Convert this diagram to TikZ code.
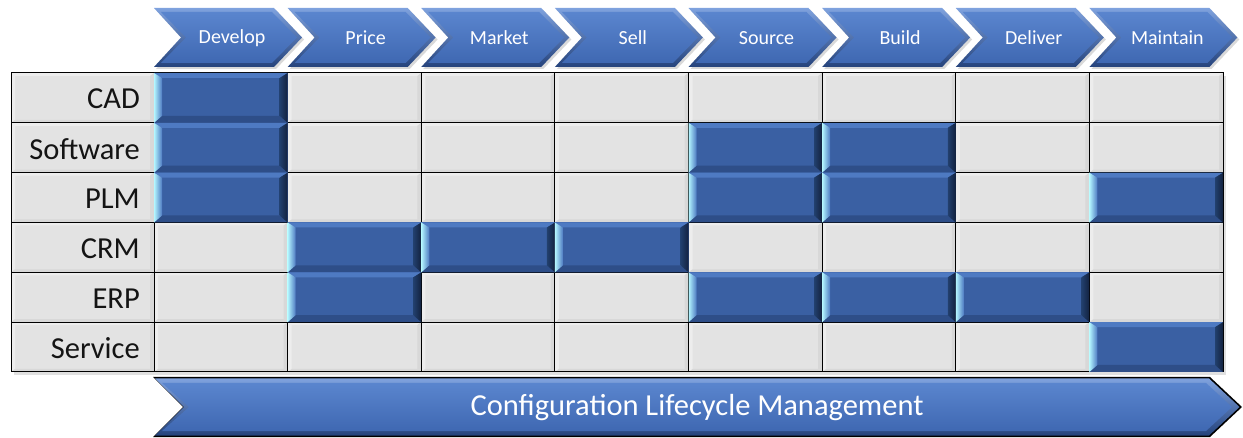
\documentclass[tikz,border=0pt]{standalone}
\usepackage{fontspec}
\setmainfont{Carlito}
\definecolor{cellgray}{HTML}{E3E3E3}
\definecolor{celllight}{HTML}{EDEDED}
\definecolor{celldark}{HTML}{D8D8D8}
\definecolor{bluemid}{HTML}{3A60A3}
\definecolor{bluetop}{HTML}{4E7AC2}
\definecolor{bluebot}{HTML}{2E4E88}
\definecolor{cyanedge}{HTML}{B4F6FF}
\definecolor{navyA}{HTML}{22406E}
\definecolor{navyB}{HTML}{13223F}
\definecolor{chevlight}{HTML}{7FA2DE}
\definecolor{chevdark}{HTML}{25437C}
\definecolor{chevtop}{HTML}{5A85CE}
\definecolor{chevbot}{HTML}{3F68B2}
\definecolor{labeltext}{HTML}{141414}

% geometry of the matrix
\newcommand\colx[1]{154+133.625*#1}
\newcommand\rowy[1]{73+49.833*#1}

% raised blue cell with bevelled edges: column, row
\newcommand\bluecell[2]{%
  \pgfmathsetmacro\xa{154+133.625*#1}%
  \pgfmathsetmacro\xb{\xa+133.625}%
  \pgfmathsetmacro\ya{73+49.833*#2}%
  \pgfmathsetmacro\yb{\ya+49.833}%
  \fill[bluemid] (\xa,\ya) rectangle (\xb,\yb);
  \fill[bluetop] (\xa,\ya) -- (\xb,\ya) -- (\xb-8,\ya+5) -- (\xa+8,\ya+5) -- cycle;
  \fill[bluebot] (\xa,\yb) -- (\xb,\yb) -- (\xb-8,\yb-7) -- (\xa+8,\yb-7) -- cycle;
  \shade[left color=cyanedge, right color=bluetop] (\xa,\ya) -- (\xa+8,\ya+5) -- (\xa+8,\yb-7) -- (\xa,\yb) -- cycle;
  \shade[left color=navyA, right color=navyB] (\xb,\ya) -- (\xb-8,\ya+5) -- (\xb-8,\yb-7) -- (\xb,\yb) -- cycle;
}

% flat grey cell with a faint bevel: left, top, right, bottom
\newcommand\graycell[4]{%
  \fill[cellgray] (#1,#2) rectangle (#3,#4);
  \fill[celllight] (#1,#2) -- (#3,#2) -- (#3-4,#2+3) -- (#1+4,#2+3) -- (#1+4,#4-3) -- (#1,#4) -- cycle;
  \fill[celldark] (#3,#4) -- (#1,#4) -- (#1+4,#4-3) -- (#3-4,#4-3) -- (#3-4,#2+3) -- (#3,#2) -- cycle;
}

\tikzset{
  steplabel/.style={text=white, font=\fontsize{20}{20}\selectfont, inner sep=0pt},
  rowlabel/.style={text=labeltext, font=\fontsize{30.5}{30.5}\selectfont, anchor=east, inner sep=0pt},
  banner/.style={text=white, font=\fontsize{30.5}{30.5}\selectfont, inner sep=0pt},
  gridline/.style={black, line width=1pt},
}

\begin{document}
\begin{tikzpicture}[x=1pt,y=-1pt]
\useasboundingbox (0,0) rectangle (1243,438);
\fill[white] (0,0) rectangle (1243,438);

% process chevrons along the top
\foreach \name [count=\i from 0] in {Develop,Price,Market,Sell,Source,Build,Deliver,Maintain}{
  \pgfmathsetmacro\L{154+133.625*\i}
  \fill[black!15] (\L+2,10) -- (\L+122,10) -- (\L+150,39.5) -- (\L+122,69) -- (\L+2,69) -- (\L+29,39.5) -- cycle;
  \shade[top color=chevlight, bottom color=chevdark]
    (\L,8) -- (\L+120,8) -- (\L+148,37.5) -- (\L+120,67) -- (\L,67) -- (\L+27,37.5) -- cycle;
  \shade[top color=chevtop, bottom color=chevbot]
    (\L+7,12) -- (\L+118,12) -- (\L+143,37.5) -- (\L+118,63) -- (\L+7,63) -- (\L+32,37.5) -- cycle;
  \node[steplabel] (step-\i) at (\L+78,38) {\name};
}

% matrix shadow
\fill[black!12] (14,76) rectangle (1226,375);

% grey cells
\foreach \r in {0,...,5}{
  \pgfmathsetmacro\ya{73+49.833*\r}
  \pgfmathsetmacro\yb{\ya+49.833}
  \graycell{11}{\ya}{154}{\yb}
  \foreach \c in {0,...,7}{
    \pgfmathsetmacro\xa{154+133.625*\c}
    \pgfmathsetmacro\xb{\xa+133.625}
    \graycell{\xa}{\ya}{\xb}{\yb}
  }
}

% grid
\draw[gridline] (11,73) rectangle (1223,372);
\foreach \r in {1,...,5}{
  \draw[gridline] (11,{\rowy{\r}}) -- (1223,{\rowy{\r}});
}
\foreach \c in {0,...,7}{
  \draw[gridline] ({\colx{\c}},73) -- ({\colx{\c}},372);
}

% row labels
\foreach \lab [count=\r from 0] in {CAD,Software,PLM,CRM,ERP,Service}{
  \node[rowlabel] (row-\r) at (140,{\rowy{\r}+26}) {\lab};
}

% systems used in each stage
\bluecell{0}{0}
\bluecell{0}{1}
\bluecell{4}{1}
\bluecell{5}{1}
\bluecell{0}{2}
\bluecell{4}{2}
\bluecell{5}{2}
\bluecell{7}{2}
\bluecell{1}{3}
\bluecell{2}{3}
\bluecell{3}{3}
\bluecell{1}{4}
\bluecell{4}{4}
\bluecell{5}{4}
\bluecell{6}{4}
\bluecell{7}{5}

% banner arrow along the bottom
\fill[black] (153,377) -- (1210,377) -- (1242,407) -- (1210,437) -- (153,437) -- (183,407) -- cycle;
\shade[top color=chevlight, bottom color=chevdark]
  (155,378.5) -- (1209,378.5) -- (1239.5,407) -- (1209,435.5) -- (155,435.5) -- (184,407) -- cycle;
\shade[top color=chevtop, bottom color=chevbot]
  (162,383) -- (1206,383) -- (1232,407) -- (1206,431) -- (162,431) -- (189,407) -- cycle;
\node[banner] (clm) at (697,408) {Configuration Lifecycle Management};
\end{tikzpicture}
\end{document}
